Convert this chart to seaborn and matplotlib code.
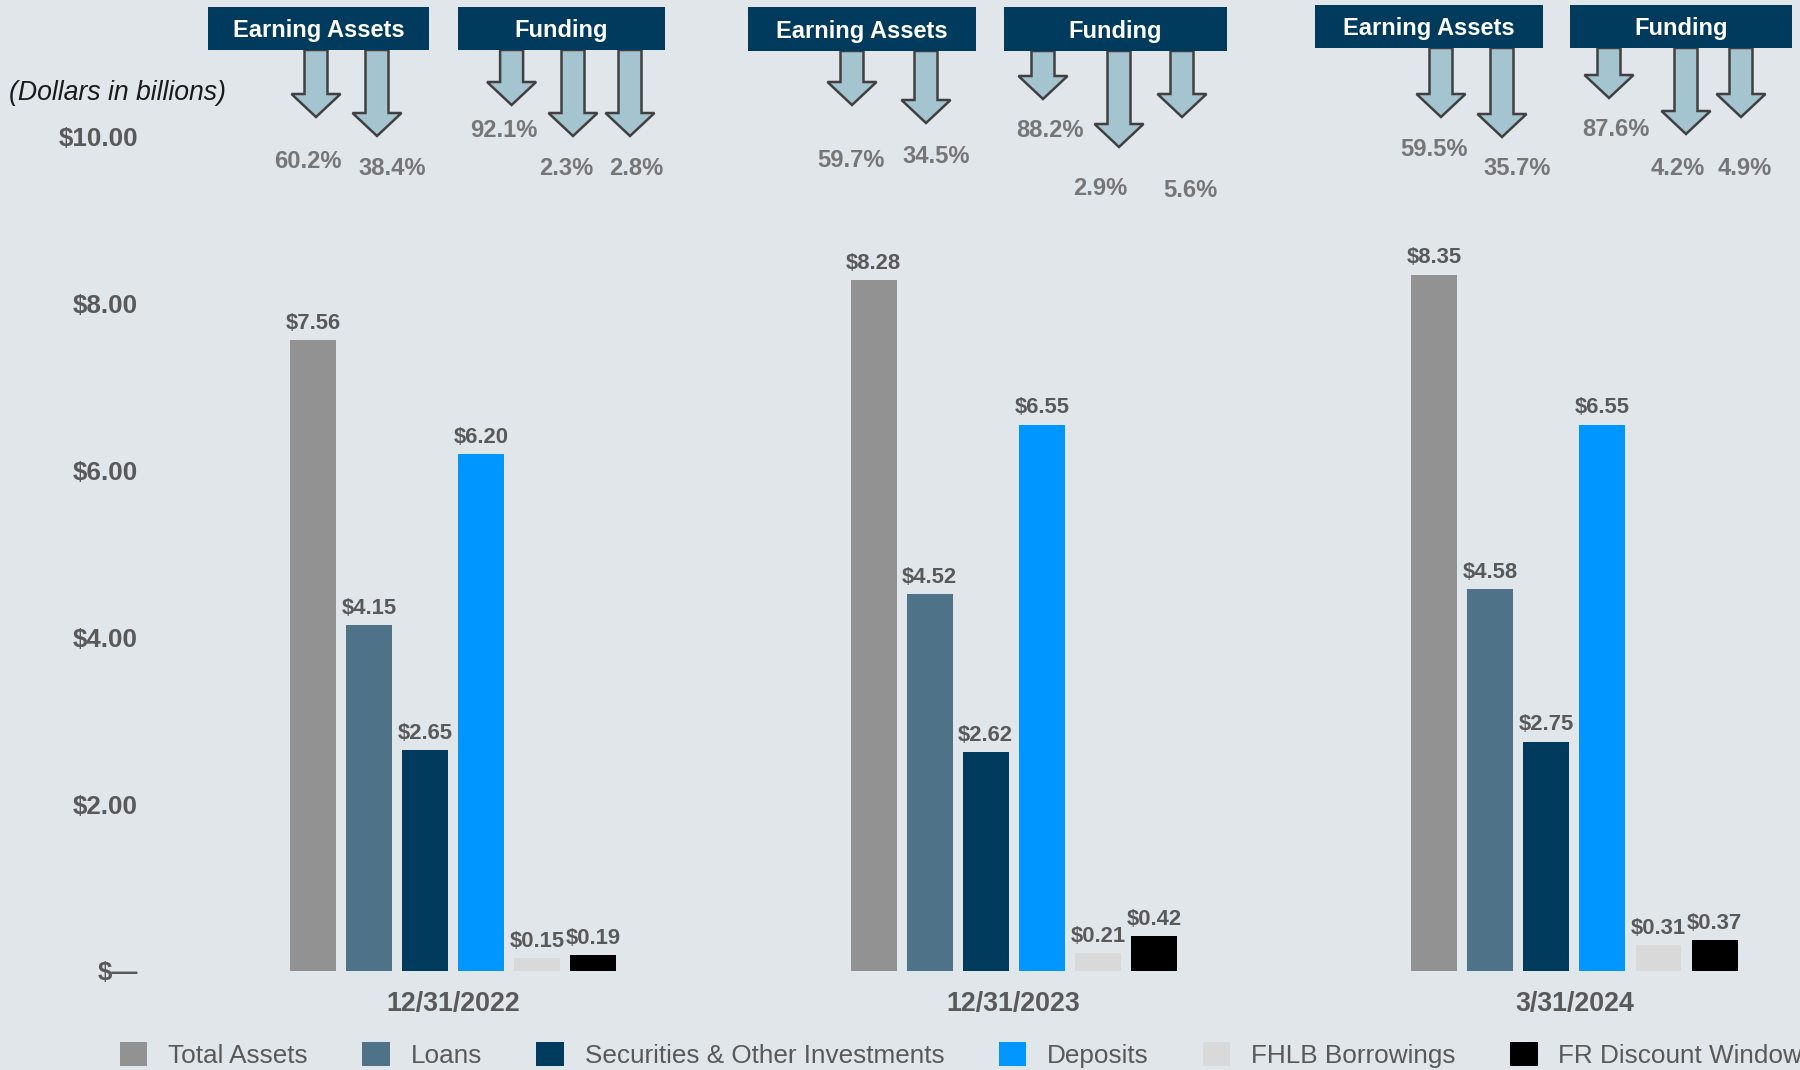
import matplotlib
matplotlib.use("Agg")
import matplotlib.pyplot as plt
from matplotlib.patches import Rectangle, Polygon
import seaborn as sns
import pandas as pd

# ---------------- data ----------------
dates = ["12/31/2022", "12/31/2023", "3/31/2024"]
categories = ["Total Assets", "Loans", "Securities & Other Investments",
              "Deposits", "FHLB Borrowings", "FR Discount Window"]
total_assets = [7.56, 8.28, 8.35]
loans = [4.15, 4.52, 4.58]
securities = [2.65, 2.62, 2.75]
deposits = [6.20, 6.55, 6.55]
fhlb_borrowings = [0.15, 0.21, 0.31]
fr_discount_window = [0.19, 0.42, 0.37]
earning_pct = [[60.2, 38.4], [59.7, 34.5], [59.5, 35.7]]
funding_pct = [[92.1, 2.3, 2.8], [88.2, 2.9, 5.6], [87.6, 4.2, 4.9]]
y_ticks = [0, 2, 4, 6, 8, 10]
y_tick_labels = ["$\u2014", "$2.00", "$4.00", "$6.00", "$8.00", "$10.00"]

colors = ["#929292", "#4E7389", "#003A5C", "#0096FF", "#D9D9D9", "#000000"]
BG = "#E1E6EA"
NAVY = "#003A5C"
ARROW_FILL = "#A4C4CF"
ARROW_EDGE = "#404040"
TXT = "#595959"
PCT = "#767676"

series = [total_assets, loans, securities, deposits, fhlb_borrowings, fr_discount_window]
rows = []
for cat, vals in zip(categories, series):
    for d, v in zip(dates, vals):
        rows.append({"date": d, "category": cat, "value": v})
df = pd.DataFrame(rows)

# ---------------- figure ----------------
sns.set_theme(style="white")
plt.rcParams["font.family"] = ["Liberation Sans", "DejaVu Sans"]
plt.rcParams["text.parse_math"] = False

W, H = 1800, 1070
fig = plt.figure(figsize=(W / 100, H / 100), dpi=100, facecolor=BG)
ax_left, ax_bottom_px = 150, 971
ax = fig.add_axes([ax_left / W, (H - ax_bottom_px) / H, (W - ax_left) / W, ax_bottom_px / H])
ax.set_facecolor(BG)

sns.barplot(data=df, x="date", y="value", hue="category", order=dates,
            hue_order=categories, palette=colors, width=0.6, gap=0.18,
            saturation=1, ax=ax, errorbar=None, linewidth=0)

px_per_unit = 83.4
ax.set_ylim(0, ax_bottom_px / px_per_unit)
group_px = 560.7
center0 = 453
ax.set_xlim((ax_left - center0) / group_px, (W - center0) / group_px)

for c in ax.containers:
    ax.bar_label(c, labels=[f"${v:.2f}" for v in c.datavalues], padding=4.5,
                 fontsize=15.8, fontweight="bold", color=TXT)

ax.set_yticks(y_ticks)
ax.set_yticklabels(y_tick_labels)
ax.tick_params(axis="y", length=0, pad=8.6, labelsize=18.7, labelcolor=TXT)
ax.tick_params(axis="x", length=0, pad=14.5, labelsize=19.3, labelcolor=TXT)
for t in ax.get_xticklabels() + ax.get_yticklabels():
    t.set_fontweight("bold")
ax.set_xlabel("")
ax.set_ylabel("")
for s in ax.spines.values():
    s.set_visible(False)
ax.grid(False)

handles, labels = ax.get_legend_handles_labels()
if ax.get_legend() is not None:
    ax.get_legend().remove()
fig.legend(handles, labels, loc="center left",
           bbox_to_anchor=(120 / W, 1 - 1055 / H), ncol=6, frameon=False,
           borderpad=0, borderaxespad=0, handlelength=1.05, handleheight=1.05,
           handletextpad=0.8, columnspacing=2.07, fontsize=18.85, labelcolor=TXT)

# ---------------- header annotations (layout in image pixels) ----------------
def fx(x):
    return x / W

def fy(y):
    return 1 - y / H

fig.text(fx(9), fy(92.5), "(Dollars in billions)", fontsize=19.2, style="italic",
         color="#1a1a1a", ha="left", va="center")

box_layout = [
    [(208, 429, 7, 50), (458, 665, 7, 50)],
    [(748, 976, 7, 51), (1004, 1227, 7, 51)],
    [(1315, 1543, 5, 48), (1570, 1792, 5, 48)],
]
arrow_layout = [
    [(316, 117), (377, 136), (511.6, 105), (573, 136), (630, 136)],
    [(852, 105), (926, 123), (1043, 99), (1119, 147), (1182, 117)],
    [(1441, 117), (1502, 137), (1609, 98), (1686, 134), (1741, 117)],
]
pct_layout = [
    [(308, 159), (392, 166), (504, 128), (566, 166), (636, 166)],
    [(851, 158), (936, 154), (1050, 128), (1100, 186), (1190, 188)],
    [(1434, 147), (1517, 166), (1616, 127), (1678, 166), (1745, 166)],
]
box_titles = ["Earning Assets", "Funding"]

shaft_hw, head_hw, head_len = 11.5, 24.5, 23
for g in range(len(dates)):
    for (x0, x1, y0, y1), title in zip(box_layout[g], box_titles):
        fig.add_artist(Rectangle((fx(x0), fy(y1)), fx(x1) - fx(x0), fy(y0) - fy(y1),
                                 transform=fig.transFigure, facecolor=NAVY,
                                 edgecolor="none", zorder=3))
        fig.text(fx((x0 + x1) / 2), fy((y0 + y1) / 2 + 2.5), title, color="white",
                 fontsize=17, fontweight="bold", ha="center", va="center", zorder=4)
    top = box_layout[g][0][3]
    for (cx, tip) in arrow_layout[g]:
        hs = tip - head_len
        pts = [(cx - shaft_hw, top), (cx + shaft_hw, top), (cx + shaft_hw, hs),
               (cx + head_hw, hs), (cx, tip), (cx - head_hw, hs), (cx - shaft_hw, hs)]
        fig.add_artist(Polygon([(fx(a), fy(b)) for a, b in pts], closed=True,
                               transform=fig.transFigure, facecolor=ARROW_FILL,
                               edgecolor=ARROW_EDGE, linewidth=1.8, zorder=2))
    pcts = earning_pct[g] + funding_pct[g]
    for (cx, cy), p in zip(pct_layout[g], pcts):
        fig.text(fx(cx), fy(cy + 2.5), f"{p:.1f}%", fontsize=17.1, fontweight="bold",
                 color=PCT, ha="center", va="center")

fig.savefig("out.png", dpi=100, facecolor=BG)
